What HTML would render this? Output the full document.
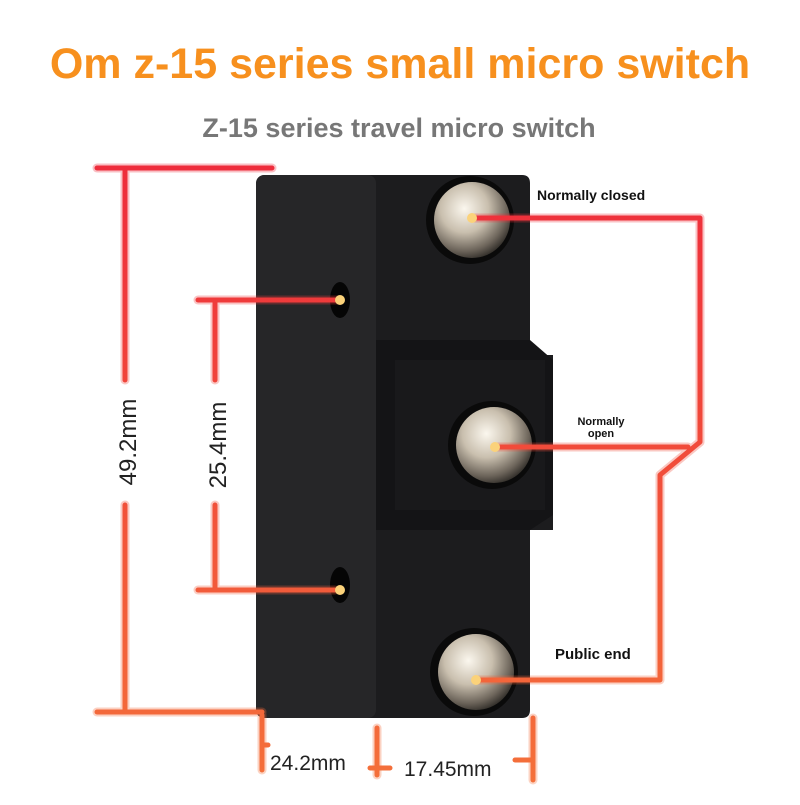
<!DOCTYPE html>
<html><head><meta charset="utf-8"><style>
body{margin:0;width:800px;height:800px;background:#fff;overflow:hidden;font-family:"Liberation Sans",sans-serif}
</style></head><body>
<svg width="800" height="800" viewBox="0 0 800 800" xmlns="http://www.w3.org/2000/svg">
<defs>
<linearGradient id="rg" gradientUnits="userSpaceOnUse" x1="0" y1="160" x2="0" y2="790"><stop offset="0" stop-color="#ee2b3b"/><stop offset="1" stop-color="#f4713a"/></linearGradient>
<radialGradient id="sc" cx="0.4" cy="0.35" r="0.7"><stop offset="0" stop-color="#fbf7ee"/><stop offset="0.45" stop-color="#c9bfae"/><stop offset="0.8" stop-color="#6c645a"/><stop offset="1" stop-color="#2a2723"/></radialGradient>
</defs>
<text x="400" y="78" text-anchor="middle" font-size="43" font-weight="bold" fill="#f7901e">Om z-15 series small micro switch</text>
<text x="399" y="137" text-anchor="middle" font-size="27" font-weight="bold" fill="#777">Z-15 series travel micro switch</text>
<!-- body -->
<path d="M266 175 H522 Q530 175 530 183 V355 H553 V530 H530 V710 Q530 718 522 718 H266 Q256 718 256 708 V185 Q256 175 266 175Z" fill="#1c1c1e"/>
<rect x="256" y="175" width="120" height="543" rx="8" fill="#262628"/>
<path d="M376 340 H530 L553 360 V515 L530 530 H376Z" fill="#141416"/>
<rect x="395" y="360" width="150" height="150" fill="#19191b"/>
<ellipse cx="340" cy="300" rx="10" ry="18" fill="#050505"/>
<ellipse cx="340" cy="585" rx="10" ry="18" fill="#050505"/>
<circle cx="470" cy="220" r="44" fill="#0a0a0a"/><circle cx="472" cy="220" r="38" fill="url(#sc)"/>
<circle cx="492" cy="445" r="44" fill="#0a0a0a"/><circle cx="494" cy="445" r="38" fill="url(#sc)"/>
<circle cx="474" cy="672" r="44" fill="#0a0a0a"/><circle cx="476" cy="672" r="38" fill="url(#sc)"/>
<g fill="none" stroke="url(#rg)" stroke-linecap="round" stroke-linejoin="round">
<g stroke-width="9" opacity="0.3">
<path d="M97 168 H272"/><path d="M125 168 V380"/><path d="M125 505 V712"/><path d="M97 712 H262"/>
<path d="M198 300 H340"/><path d="M215 300 V380"/><path d="M215 505 V590"/><path d="M198 590 H335"/>
<path d="M262 715 V770"/><path d="M377 728 V775"/><path d="M533 718 V780"/>
<path d="M472 218 H700 V442 L660 475 V680 H476"/><path d="M495 447 H688"/>
</g>
<g stroke-width="5">
<path d="M97 168 H272"/><path d="M125 168 V380"/><path d="M125 505 V712"/><path d="M97 712 H262"/>
<path d="M198 300 H340"/><path d="M215 300 V380"/><path d="M215 505 V590"/><path d="M198 590 H335"/>
<path d="M262 715 V770"/><path d="M377 728 V775"/><path d="M533 718 V780"/>
<path d="M262 745 H268"/><path d="M370 768 H390"/><path d="M515 760 H533"/>
<path d="M472 218 H700 V442 L660 475 V680 H476"/><path d="M495 447 H688"/>
</g>
</g>
<g fill="#fbd27a"><circle cx="472" cy="218" r="5"/><circle cx="340" cy="300" r="5"/><circle cx="340" cy="590" r="5"/><circle cx="495" cy="447" r="5"/><circle cx="476" cy="680" r="5"/></g>
<text transform="translate(136,442) rotate(-90)" text-anchor="middle" font-size="24" fill="#222">49.2mm</text>
<text transform="translate(226,445) rotate(-90)" text-anchor="middle" font-size="24" fill="#222">25.4mm</text>
<text x="270" y="770" font-size="21" fill="#222">24.2mm</text>
<text x="404" y="776" font-size="21" fill="#222">17.45mm</text>
<text x="537" y="200" font-size="14" font-weight="bold" fill="#111">Normally closed</text>
<text x="601" y="425" text-anchor="middle" font-size="11" font-weight="bold" fill="#111">Normally</text>
<text x="601" y="437" text-anchor="middle" font-size="11" font-weight="bold" fill="#111">open</text>
<text x="555" y="659" font-size="15" font-weight="bold" fill="#111">Public end</text>
</svg>
</body></html>
